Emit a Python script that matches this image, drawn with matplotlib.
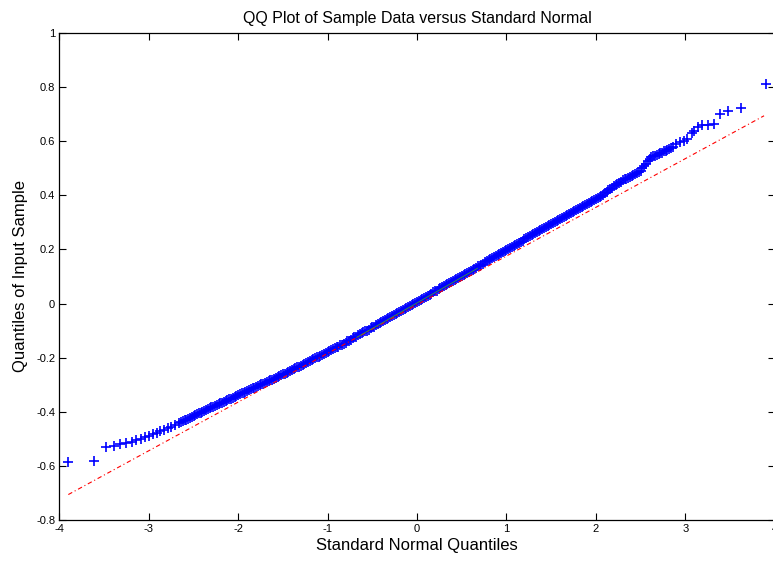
import matplotlib
matplotlib.use("Agg")
import matplotlib.pyplot as plt

plt.rcParams['font.family'] = ['Liberation Sans', 'DejaVu Sans']

# sample quantiles (theoretical x, sample y)
tail_lo_x = [-3.90, -3.61, -3.48, -3.39, -3.32, -3.25, -3.19, -3.14, -3.09,
             -3.04, -3.00, -2.95, -2.91, -2.87, -2.83, -2.79, -2.75, -2.71]
tail_lo_y = [-0.586, -0.583, -0.530, -0.526, -0.520, -0.516, -0.512, -0.506,
             -0.499, -0.493, -0.488, -0.482, -0.477, -0.471, -0.466, -0.461,
             -0.456, -0.450]

band_x = [-2.66, -2.62, -2.58, -2.54, -2.50, -2.46, -2.42, -2.38, -2.34, -2.30,
          -2.26, -2.22, -2.18, -2.14, -2.10, -2.06, -2.02, -1.98, -1.94, -1.90,
          -1.86, -1.82, -1.78, -1.74, -1.70, -1.66, -1.62, -1.58, -1.54, -1.50,
          -1.46, -1.42, -1.38, -1.34, -1.30, -1.26, -1.22, -1.18, -1.14, -1.10,
          -1.06, -1.02, -0.98, -0.94, -0.90, -0.86, -0.82, -0.78, -0.74, -0.70,
          -0.66, -0.62, -0.58, -0.54, -0.50, -0.46, -0.42, -0.38, -0.34, -0.30,
          -0.26, -0.22, -0.18, -0.14, -0.10, -0.06, -0.02, 0.02, 0.06, 0.10,
          0.14, 0.18, 0.22, 0.26, 0.30, 0.34, 0.38, 0.42, 0.46, 0.50,
          0.54, 0.58, 0.62, 0.66, 0.70, 0.74, 0.78, 0.82, 0.86, 0.90,
          0.94, 0.98, 1.02, 1.06, 1.10, 1.14, 1.18, 1.22, 1.26, 1.30,
          1.34, 1.38, 1.42, 1.46, 1.50, 1.54, 1.58, 1.62, 1.66, 1.70,
          1.74, 1.78, 1.82, 1.86, 1.90, 1.94, 1.98, 2.02, 2.06, 2.10,
          2.14, 2.18, 2.22, 2.26, 2.30, 2.34, 2.38, 2.42, 2.46, 2.50,
          2.54, 2.58, 2.62, 2.66, 2.70, 2.74, 2.78, 2.82, 2.86]
band_y = [-0.442, -0.435, -0.429, -0.422, -0.416, -0.409, -0.403, -0.396, -0.390, -0.384,
          -0.378, -0.372, -0.366, -0.360, -0.354, -0.348, -0.342, -0.335, -0.329, -0.323,
          -0.317, -0.311, -0.305, -0.299, -0.293, -0.287, -0.281, -0.275, -0.268, -0.262,
          -0.255, -0.249, -0.242, -0.236, -0.229, -0.222, -0.216, -0.209, -0.202, -0.196,
          -0.189, -0.182, -0.175, -0.168, -0.162, -0.155, -0.148, -0.140, -0.133, -0.125,
          -0.118, -0.110, -0.103, -0.096, -0.088, -0.081, -0.073, -0.066, -0.058, -0.050,
          -0.043, -0.035, -0.028, -0.020, -0.013, -0.005, 0.002, 0.010, 0.018, 0.025,
          0.033, 0.041, 0.048, 0.056, 0.064, 0.071, 0.079, 0.087, 0.094, 0.102,
          0.110, 0.117, 0.125, 0.133, 0.140, 0.148, 0.156, 0.163, 0.171, 0.179,
          0.186, 0.194, 0.202, 0.210, 0.217, 0.225, 0.233, 0.241, 0.248, 0.256,
          0.264, 0.271, 0.279, 0.286, 0.294, 0.301, 0.308, 0.316, 0.323, 0.331,
          0.338, 0.345, 0.353, 0.360, 0.368, 0.375, 0.382, 0.390, 0.397, 0.407,
          0.418, 0.428, 0.438, 0.447, 0.455, 0.462, 0.468, 0.474, 0.482, 0.491,
          0.508, 0.526, 0.541, 0.547, 0.552, 0.558, 0.565, 0.572, 0.578]

# more samples of the dense middle of the cloud, between the ones above
band2_x = [-2.64, -2.60, -2.56, -2.52, -2.48, -2.44, -2.40, -2.36, -2.32, -2.28,
           -2.24, -2.20, -2.16, -2.12, -2.08, -2.04, -2.00, -1.96, -1.92, -1.88,
           -1.84, -1.80, -1.76, -1.72, -1.68, -1.64, -1.60, -1.56, -1.52, -1.48,
           -1.44, -1.40, -1.36, -1.32, -1.28, -1.24, -1.20, -1.16, -1.12, -1.08,
           -1.04, -1.00, -0.96, -0.92, -0.88, -0.84, -0.80, -0.76, -0.72, -0.68,
           -0.64, -0.60, -0.56, -0.52, -0.48, -0.44, -0.40, -0.36, -0.32, -0.28,
           -0.24, -0.20, -0.16, -0.12, -0.08, -0.04, 0.00, 0.04, 0.08, 0.12,
           0.16, 0.20, 0.24, 0.28, 0.32, 0.36, 0.40, 0.44, 0.48, 0.52,
           0.56, 0.60, 0.64, 0.68, 0.72, 0.76, 0.80, 0.84, 0.88, 0.92,
           0.96, 1.00, 1.04, 1.08, 1.12, 1.16, 1.20, 1.24, 1.28, 1.32,
           1.36, 1.40, 1.44, 1.48, 1.52, 1.56, 1.60, 1.64, 1.68, 1.72,
           1.76, 1.80, 1.84, 1.88, 1.92, 1.96, 2.00, 2.04, 2.08, 2.12,
           2.16, 2.20, 2.24, 2.28, 2.32, 2.36, 2.40, 2.44, 2.48, 2.52,
           2.56, 2.60, 2.64, 2.68, 2.72, 2.76, 2.80, 2.84]
band2_y = [-0.439, -0.432, -0.426, -0.419, -0.413, -0.406, -0.400, -0.393, -0.387, -0.381,
           -0.375, -0.369, -0.363, -0.357, -0.351, -0.345, -0.339, -0.332, -0.326, -0.320,
           -0.314, -0.308, -0.302, -0.296, -0.290, -0.284, -0.278, -0.272, -0.265, -0.259,
           -0.252, -0.246, -0.239, -0.233, -0.226, -0.219, -0.213, -0.206, -0.199, -0.193,
           -0.186, -0.179, -0.172, -0.165, -0.159, -0.152, -0.144, -0.137, -0.129, -0.122,
           -0.114, -0.107, -0.100, -0.092, -0.085, -0.077, -0.070, -0.062, -0.054, -0.047,
           -0.039, -0.032, -0.024, -0.017, -0.009, -0.002, 0.006, 0.014, 0.022, 0.029,
           0.037, 0.045, 0.052, 0.060, 0.068, 0.075, 0.083, 0.091, 0.098, 0.106,
           0.114, 0.121, 0.129, 0.137, 0.144, 0.152, 0.160, 0.167, 0.175, 0.183,
           0.190, 0.198, 0.206, 0.214, 0.221, 0.229, 0.237, 0.245, 0.252, 0.260,
           0.268, 0.275, 0.283, 0.290, 0.298, 0.305, 0.312, 0.320, 0.327, 0.335,
           0.342, 0.349, 0.357, 0.364, 0.372, 0.379, 0.386, 0.394, 0.402, 0.413,
           0.423, 0.433, 0.443, 0.451, 0.459, 0.465, 0.471, 0.478, 0.487, 0.500,
           0.517, 0.534, 0.544, 0.550, 0.555, 0.562, 0.569, 0.575]

tail_hi_x = [2.90, 2.94, 2.99, 3.02, 3.07, 3.10, 3.14, 3.19, 3.25, 3.32,
             3.39, 3.48, 3.62, 3.90]
tail_hi_y = [0.588, 0.596, 0.602, 0.608, 0.630, 0.636, 0.653, 0.660, 0.661,
             0.663, 0.700, 0.710, 0.721, 0.813]

# reference line (extrapolated) and the quartile segment
ref_x = [-3.90, 3.88]
ref_y = [-0.706, 0.694]
quart_x = [-0.674, 0.674]
quart_y = [-0.125, 0.130]

xticks = [-4, -3, -2, -1, 0, 1, 2, 3, 4]
yticks = [-0.8, -0.6, -0.4, -0.2, 0, 0.2, 0.4, 0.6, 0.8, 1]
yticklabels = ['-0.8', '-0.6', '-0.4', '-0.2', '0', '0.2', '0.4', '0.6', '0.8', '1']

fig = plt.figure(figsize=(7.73, 5.63), dpi=100)
ax = fig.add_axes([0.0768, 0.0764, 0.9255, 0.865])

xs = tail_lo_x + band_x + band2_x + tail_hi_x
ys = tail_lo_y + band_y + band2_y + tail_hi_y
ax.plot(xs, ys, linestyle='none', marker='+', color='#0000ff',
        markersize=7, markeredgewidth=1.2, zorder=3)
ax.plot(ref_x, ref_y, color='#ff0000', linewidth=0.8,
        linestyle=(0, (4, 2.5, 1, 2.5)), zorder=4)
ax.plot(quart_x, quart_y, color='#3c9a3c', linewidth=0.6, zorder=5)

ax.set_xlim(-4, 4)
ax.set_ylim(-0.8, 1)
ax.set_xticks(xticks)
ax.set_xticklabels([str(t) for t in xticks])
ax.set_yticks(yticks)
ax.set_yticklabels(yticklabels)
ax.tick_params(direction='in', length=5, width=0.8, top=True, right=True,
               labelsize=8, colors='black', pad=3)
for s in ax.spines.values():
    s.set_linewidth(0.9)

ax.set_title('QQ Plot of Sample Data versus Standard Normal', fontsize=11.5, pad=7)
ax.set_xlabel('Standard Normal Quantiles', fontsize=12, labelpad=3)
ax.set_ylabel('Quantiles of Input Sample', fontsize=12, labelpad=6)

fig.savefig('out.png', dpi=100)
